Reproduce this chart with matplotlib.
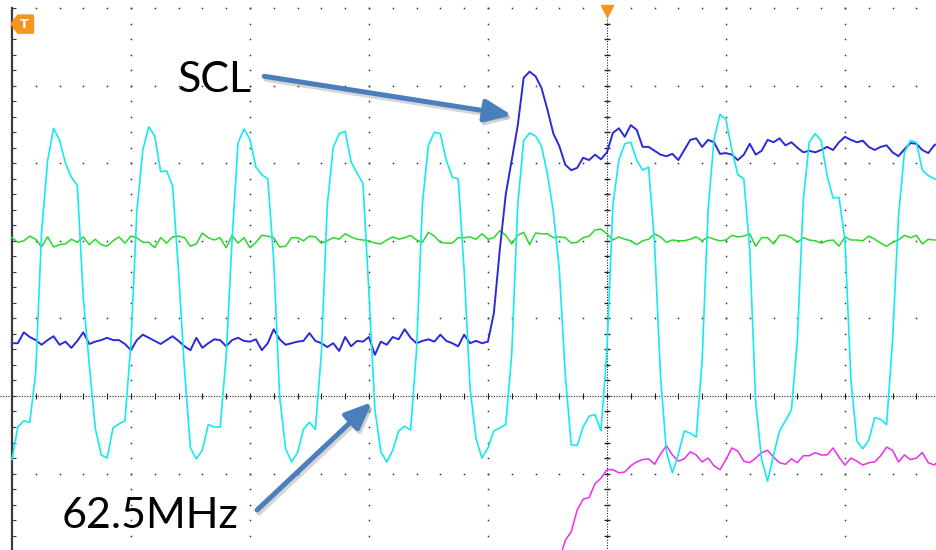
import numpy as np
import matplotlib
matplotlib.use("Agg")
import matplotlib.pyplot as plt
from matplotlib.patches import FancyArrowPatch, Polygon
from matplotlib.transforms import offset_copy

# scope capture: 1 ns per sample, 20 ns/div, trigger at t = 0, values in divisions
time_ns = np.arange(-100, 57)

clk_62m5 = [
    -0.82, -0.40, -0.32, -0.34, 0.30, 2.13, 3.03, 3.45, 3.30, 3.00,
    2.82, 2.71, 1.26, 0.41, -0.41, -0.76, -0.80, -0.41, -0.36, -0.32,
    0.68, 2.38, 3.17, 3.47, 3.35, 2.89, 2.90, 2.71, 1.61, 0.34,
    -0.67, -0.81, -0.70, -0.37, -0.40, -0.40, 0.50, 2.01, 3.26, 3.44,
    3.31, 2.95, 2.85, 2.80, 1.75, -0.01, -0.68, -0.85, -0.73, -0.43,
    -0.34, -0.43, 0.54, 2.46, 3.20, 3.38, 3.41, 3.02, 2.87, 2.74,
    1.33, -0.17, -0.72, -0.85, -0.70, -0.45, -0.39, -0.44, 0.59, 2.49,
    3.23, 3.40, 3.38, 3.04, 2.82, 2.80, 1.62, 0.10, -0.55, -0.80,
    -0.67, -0.45, -0.41, -0.37, 0.54, 2.45, 3.29, 3.39, 3.35, 3.22,
    2.86, 2.37, 1.62, 0.27, -0.63, -0.64, -0.40, -0.26, -0.24, -0.45,
    0.59, 2.46, 3.04, 3.25, 3.27, 3.04, 2.91, 2.95, 1.97, 0.26,
    -0.72, -0.99, -0.75, -0.45, -0.48, -0.53, 0.46, 2.40, 3.31, 3.63,
    3.56, 3.17, 2.85, 2.80, 1.88, -0.09, -0.82, -1.10, -0.76, -0.45,
    -0.32, -0.18, 0.72, 2.53, 3.27, 3.38, 3.29, 2.84, 2.55, 2.56,
    2.01, 0.21, -0.58, -0.68, -0.57, -0.28, -0.30, -0.37, 0.72, 2.32,
    3.14, 3.29, 3.27, 2.91, 2.84, 2.80, 2.77,
]

scl = [
    0.68, 0.68, 0.82, 0.76, 0.72, 0.66, 0.72, 0.77, 0.66, 0.70,
    0.62, 0.71, 0.82, 0.67, 0.70, 0.72, 0.75, 0.72, 0.72, 0.67,
    0.59, 0.72, 0.79, 0.75, 0.71, 0.67, 0.72, 0.77, 0.71, 0.64,
    0.59, 0.75, 0.62, 0.68, 0.73, 0.72, 0.64, 0.72, 0.75, 0.71,
    0.70, 0.73, 0.59, 0.68, 0.86, 0.73, 0.66, 0.68, 0.70, 0.71,
    0.81, 0.71, 0.68, 0.63, 0.68, 0.58, 0.76, 0.64, 0.71, 0.70,
    0.76, 0.53, 0.70, 0.66, 0.76, 0.73, 0.86, 0.75, 0.68, 0.71,
    0.73, 0.70, 0.79, 0.71, 0.68, 0.64, 0.79, 0.68, 0.71, 0.68,
    0.70, 1.07, 1.89, 2.60, 3.04, 3.48, 4.10, 4.18, 4.12, 3.97,
    3.69, 3.38, 3.22, 2.98, 2.91, 2.94, 3.07, 3.04, 3.11, 3.05,
    3.14, 3.39, 3.45, 3.34, 3.49, 3.43, 3.21, 3.21, 3.16, 3.11,
    3.09, 3.12, 3.04, 3.17, 3.30, 3.32, 3.21, 3.30, 3.27, 3.12,
    3.13, 3.11, 3.04, 3.11, 3.25, 3.11, 3.16, 3.30, 3.27, 3.32,
    3.23, 3.27, 3.20, 3.14, 3.16, 3.14, 3.17, 3.21, 3.17, 3.27,
    3.34, 3.30, 3.27, 3.29, 3.21, 3.17, 3.21, 3.23, 3.14, 3.09,
    3.18, 3.26, 3.25, 3.17, 3.13, 3.23, 3.27,
]

ch_green = [
    2.04, 1.98, 2.00, 2.06, 2.02, 1.92, 2.05, 1.92, 1.95, 1.96,
    2.02, 1.98, 2.05, 1.95, 2.02, 1.95, 1.93, 2.00, 2.05, 1.97,
    2.06, 2.04, 1.98, 1.98, 1.91, 2.04, 1.97, 2.05, 2.06, 2.04,
    1.93, 1.96, 2.10, 2.04, 2.01, 2.04, 1.91, 2.07, 1.97, 2.04,
    1.91, 1.98, 2.07, 2.06, 2.04, 1.92, 1.93, 2.04, 2.04, 2.00,
    2.06, 2.05, 1.97, 2.00, 2.04, 2.02, 2.09, 2.05, 2.02, 2.01,
    2.00, 1.97, 1.96, 2.01, 2.05, 2.02, 2.04, 2.07, 2.01, 1.98,
    2.11, 2.06, 1.98, 1.97, 1.97, 2.04, 2.04, 2.05, 2.02, 2.09,
    2.02, 2.04, 2.13, 2.07, 1.96, 2.07, 2.11, 1.95, 2.10, 2.09,
    2.09, 2.04, 2.05, 2.04, 1.97, 1.98, 2.04, 2.06, 2.14, 2.15,
    2.09, 2.01, 2.05, 2.02, 2.00, 1.95, 2.00, 2.02, 2.09, 2.05,
    1.98, 2.01, 2.00, 2.00, 2.02, 2.05, 2.00, 2.05, 2.02, 2.00,
    2.01, 2.07, 2.05, 2.06, 2.09, 1.93, 2.04, 2.04, 1.96, 2.07,
    2.07, 2.04, 1.98, 2.04, 2.01, 2.00, 1.97, 2.00, 2.01, 1.93,
    2.05, 2.01, 2.01, 2.00, 2.06, 2.02, 1.97, 1.93, 1.98, 2.01,
    2.07, 2.04, 2.07, 1.96, 2.02, 2.01, 2.01,
]

mag_time_ns = np.arange(-8, 57)
ch_magenta = [
    -2.11, -1.86, -1.75, -1.47, -1.33, -1.31, -1.13, -1.06,
    -0.95, -0.95, -0.99, -0.98, -0.90, -0.85, -0.82, -0.81, -0.88, -0.75,
    -0.64, -0.76, -0.84, -0.81, -0.72, -0.76, -0.85, -0.80, -0.90, -0.95,
    -0.82, -0.67, -0.71, -0.84, -0.86, -0.80, -0.73, -0.70, -0.79, -0.86,
    -0.88, -0.81, -0.86, -0.77, -0.77, -0.73, -0.76, -0.76, -0.67, -0.79,
    -0.89, -0.80, -0.84, -0.89, -0.86, -0.85, -0.77, -0.66, -0.70, -0.85,
    -0.76, -0.82, -0.80, -0.73, -0.86, -0.89, -0.82,
]

T_DIV = 20.0
CYAN = "#14eaf0"
BLUE = "#2a2ad8"
GREEN = "#2ad82a"
MAGENTA = "#ee2cee"
ORANGE = "#f7941d"
ARROW = "#4a7ebd"
DOT = "#333333"

fig = plt.figure(figsize=(9.36, 5.5), dpi=100)
ax = fig.add_axes([0, 0, 1, 1])
ax.set_xlim(-102.0, 55.3)
ax.set_ylim(-1.985, 5.103)
ax.axis("off")

# graticule
minor_t = np.arange(-100, 56, T_DIV / 5)
minor_v = np.arange(-2, 5.01, 0.2)
for t in [-80, -60, -40, -20, 20, 40]:
    ax.plot(np.full_like(minor_v, t), minor_v, ls="none", marker="s", ms=1.1, mew=0, color=DOT, zorder=1)
for v in [-1, 1, 2, 3, 4, 5]:
    ax.plot(minor_t, np.full_like(minor_t, v), ls="none", marker="s", ms=1.1, mew=0, color=DOT, zorder=1)

# centre axes with fine dots and minor ticks
ax.axhline(0, color="#222222", lw=0.8, ls=(0, (1, 1.4)), zorder=1)
ax.plot(minor_t, np.zeros_like(minor_t), ls="none", marker="|", ms=4, mew=0.8, color="#222222", zorder=1)
ax.plot([0, 0], [-2.1, 5.0], color="#222222", lw=0.8, ls=(0, (1, 1.4)), zorder=1)
ax.plot(np.zeros_like(minor_v), minor_v, ls="none", marker="_", ms=5, mew=1.0, color="#222222", zorder=1)

# left edge of the screen
ax.plot([-100, -100], [-2.1, 5.0], color="#3c3c3c", lw=1.6, zorder=2)
ax.plot(np.full_like(minor_v, -100), minor_v, ls="none", marker=1, ms=3, mew=0.8, color="#3c3c3c", zorder=2)

# traces
ax.plot(time_ns, ch_green, color=GREEN, lw=1.1, zorder=3)
ax.plot(time_ns, scl, color=BLUE, lw=1.4, zorder=4)
ax.plot(mag_time_ns, ch_magenta, color=MAGENTA, lw=1.1, zorder=4)
ax.plot(time_ns, clk_62m5, color=CYAN, lw=1.2, zorder=5)

# trigger markers
ax.plot([0], [4.96], marker="v", ms=8, color=ORANGE, ls="none", zorder=6)
tag = Polygon([(-100.0, 4.794), (-98.99, 4.90), (-96.5, 4.90), (-96.5, 4.685), (-98.99, 4.685)],
              closed=True, facecolor=ORANGE, edgecolor=ORANGE, lw=2, joinstyle="round", zorder=6)
ax.add_patch(tag)
ax.text(-97.9, 4.79, "T", color="white", fontsize=9, weight="bold", ha="center", va="center", zorder=7)

# annotations
ax.text(-72.1, 3.92, "SCL", fontsize=31, family=["Lato", "DejaVu Sans"], ha="left", va="baseline", zorder=8)
ax.text(-91.6, -1.70, "62.5MHz", fontsize=31, family=["Lato", "DejaVu Sans"], ha="left", va="baseline", zorder=8)

shadow_tr = offset_copy(ax.transData, fig=fig, x=2, y=-3, units="dots")
for tail, tip in [((-57.6, 4.12), (-16.0, 3.62)), ((-58.8, -1.47), (-39.5, -0.08))]:
    style = "-|>,head_length=0.8,head_width=0.34"
    ax.add_patch(FancyArrowPatch(tail, tip, arrowstyle=style, mutation_scale=20, lw=3.6,
                                 color="#888888", alpha=0.35, transform=shadow_tr,
                                 shrinkA=0, shrinkB=0, zorder=8))
    ax.add_patch(FancyArrowPatch(tail, tip, arrowstyle=style, mutation_scale=20, lw=3.6,
                                 color=ARROW, shrinkA=0, shrinkB=0, zorder=9))

fig.savefig("out.png", dpi=100)
